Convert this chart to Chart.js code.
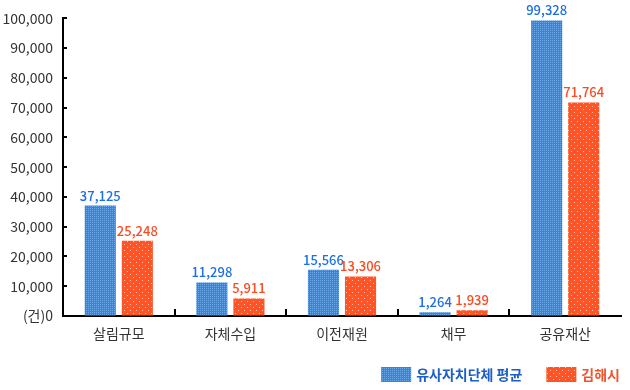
<!DOCTYPE html>
<html>
<head>
<meta charset="utf-8">
<script src="https://cdn.jsdelivr.net/npm/chart.js@4/dist/chart.umd.min.js"></script>
<style>
html,body{margin:0;padding:0;background:#fff;}
#wrap{width:630px;height:390px;position:relative;}
</style>
</head>
<body>
<div id="wrap"><canvas id="c" width="630" height="390"></canvas></div>
<script>
const categories = ['살림규모', '자체수입', '이전재원', '채무', '공유재산'];
const seriesNames = ['유사자치단체 평균', '김해시'];
const avgValues = [37125, 11298, 15566, 1264, 99328];
const gimhaeValues = [25248, 5911, 13306, 1939, 71764];
const yTicks = [0, 10000, 20000, 30000, 40000, 50000, 60000, 70000, 80000, 90000, 100000];

const FONT = '"Noto Sans CJK KR", "Noto Sans", sans-serif';
const BLUE_LABEL = '#1c6fe6';
const ORANGE_LABEL = '#fa4b22';
const LEGEND_COLORS = ['#1d5fc4', '#f0532e'];

function makePattern(base, dot, size, dots) {
  const c = document.createElement('canvas');
  c.width = size; c.height = size;
  const x = c.getContext('2d');
  x.fillStyle = base; x.fillRect(0, 0, size, size);
  x.fillStyle = dot;
  dots.forEach(d => x.fillRect(d[0], d[1], 1, 1));
  return x.createPattern(c, 'repeat');
}
const blueFill = makePattern('#3a83d6', '#6aa8ea', 2, [[0,0]]);
const orangeFill = makePattern('#ff5526', '#ffc2ad', 6, [[1,1],[4,4]]);

const innerTicks = {
  id: 'innerTicks',
  afterDraw(chart) {
    const ctx = chart.ctx, x = chart.scales.x, y = chart.scales.y;
    const ca = chart.chartArea;
    ctx.save();
    ctx.strokeStyle = '#000';
    ctx.lineWidth = 2;
    yTicks.forEach(v => {
      if (v === 0) return;
      const py = Math.round(y.getPixelForValue(v));
      ctx.beginPath(); ctx.moveTo(ca.left, py); ctx.lineTo(ca.left + 4, py); ctx.stroke();
    });
    for (let i = 0; i < categories.length - 1; i++) {
      const px = Math.round((x.getPixelForTick(i) + x.getPixelForTick(i + 1)) / 2);
      ctx.beginPath(); ctx.moveTo(px, ca.bottom); ctx.lineTo(px, ca.bottom - 7); ctx.stroke();
    }
    ctx.restore();
  }
};

const barLabels = {
  id: 'barLabels',
  afterDatasetsDraw(chart) {
    const ctx = chart.ctx;
    ctx.save();
    ctx.font = '500 13px ' + FONT;
    ctx.textAlign = 'center';
    ctx.textBaseline = 'alphabetic';
    chart.data.datasets.forEach((ds, di) => {
      const meta = chart.getDatasetMeta(di);
      ctx.fillStyle = di === 0 ? BLUE_LABEL : ORANGE_LABEL;
      meta.data.forEach((bar, i) => {
        ctx.fillText(ds.data[i].toLocaleString('en-US'), bar.x, bar.y - 5);
      });
    });
    ctx.restore();
  }
};

const bottomLegend = {
  id: 'bottomLegend',
  afterDraw(chart) {
    const ctx = chart.ctx;
    ctx.save();
    ctx.font = 'bold 14px ' + FONT;
    ctx.textBaseline = 'middle';
    ctx.textAlign = 'left';
    const boxW = 30, boxH = 15, gapText = 5, gapItem = 24;
    const top = 367, mid = top + boxH / 2 + 0.5;
    let xEnd = 620;
    const ds = chart.data.datasets;
    for (let i = ds.length - 1; i >= 0; i--) {
      const w = ctx.measureText(ds[i].label).width;
      const tx = xEnd - w;
      const bx = tx - gapText - boxW;
      ctx.fillStyle = ds[i].backgroundColor;
      ctx.fillRect(bx, top, boxW, boxH);
      ctx.fillStyle = LEGEND_COLORS[i];
      ctx.fillText(ds[i].label, tx, mid);
      xEnd = bx - gapItem;
    }
    ctx.restore();
  }
};

new Chart(document.getElementById('c'), {
  type: 'bar',
  data: {
    labels: categories,
    datasets: [
      { label: seriesNames[0], data: avgValues, backgroundColor: blueFill, borderWidth: 0 },
      { label: seriesNames[1], data: gimhaeValues, backgroundColor: orangeFill, borderWidth: 0 }
    ]
  },
  options: {
    responsive: false,
    animation: false,
    devicePixelRatio: 1,
    datasets: { bar: { categoryPercentage: 0.664, barPercentage: 0.84 } },
    layout: { padding: { top: 16, right: 9, left: 0, bottom: 34 } },
    plugins: {
      tooltip: { enabled: false },
      legend: { display: false }
    },
    scales: {
      x: {
        grid: { color: 'transparent', drawTicks: false },
        border: { display: true, color: '#000', width: 2 },
        ticks: { color: '#333', padding: 9, font: { family: FONT, size: 14 } },
        afterFit(s) { s.height = 40; }
      },
      y: {
        min: 0, max: 100000,
        afterBuildTicks(s) { s.ticks = yTicks.map(v => ({ value: v })); },
        grid: { color: 'transparent', drawTicks: false },
        border: { display: true, color: '#000', width: 2 },
        ticks: {
          color: '#333', padding: 10,
          font: { family: FONT, size: 14 },
          callback(v) { return v === 0 ? '(건)0' : Number(v).toLocaleString('en-US'); }
        },
        afterFit(s) { s.width = 63; }
      }
    }
  },
  plugins: [innerTicks, barLabels, bottomLegend]
});
</script>
</body>
</html>
